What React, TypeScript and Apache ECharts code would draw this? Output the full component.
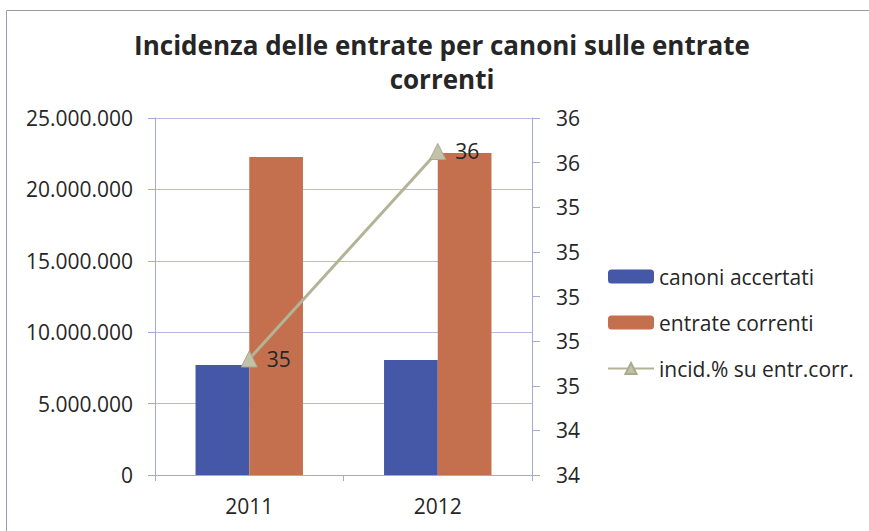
import React, { useEffect, useRef } from "react";
import * as echarts from "echarts";

const categories = ["2011", "2012"];
const canoniAccertati = [7700000, 8050000];
const entrateCorrenti = [22270000, 22550000];
const incidenza = [34.72, 35.65];
const leftTicks = { min: 0, max: 25000000, interval: 5000000 };
const rightTicks = { min: 34.2, max: 35.8, interval: 0.2 };
const titleText = "Incidenza delle entrate per canoni sulle entrate\ncorrenti";
const seriesNames = ["canoni accertati", "entrate correnti", "incid.% su entr.corr."];

const FONT = "'Open Sans', 'Noto Sans', sans-serif";
const TXT = "#262626";
const AXIS = "#a3a8d6";
const GRID = "#b6bade";

export default function App() {
  const ref = useRef<HTMLDivElement>(null);
  useEffect(() => {
    document.body.style.margin = "0";
    const chart = echarts.init(ref.current!, null, { renderer: "svg" });
    const fmtThousands = (v: number) =>
      String(Math.round(v)).replace(/\B(?=(\d{3})+(?!\d))/g, ".");
    chart.setOption({
      animation: false,
      backgroundColor: "#ffffff",
      textStyle: { fontFamily: FONT },
      title: {
        text: titleText,
        left: 442,
        top: 28,
        padding: 0,
        textAlign: "center",
        textStyle: {
          fontFamily: FONT,
          fontSize: 26,
          lineHeight: 34,
          fontWeight: "bold",
          color: TXT,
        },
      },
      graphic: [
        {
          type: "rect",
          shape: { x: 6.5, y: 10.5, width: 900, height: 600 },
          style: { fill: "none", stroke: "#9a9aa8", lineWidth: 1 },
          silent: true,
        },
      ],
      legend: {
        orient: "vertical",
        left: 602,
        top: 261,
        itemWidth: 46,
        itemHeight: 14,
        itemGap: 25,
        data: seriesNames,
        textStyle: { fontFamily: FONT, fontSize: 21, color: TXT },
      },
      grid: { left: 155, right: 337, top: 118, bottom: 56, containLabel: false },
      xAxis: {
        type: "category",
        data: categories,
        axisLine: { lineStyle: { color: AXIS, width: 1 } },
        axisTick: { show: true, length: 6, lineStyle: { color: AXIS } },
        axisLabel: { fontFamily: FONT, fontSize: 21, color: TXT, margin: 20 },
      },
      yAxis: [
        {
          type: "value",
          min: leftTicks.min,
          max: leftTicks.max,
          interval: leftTicks.interval,
          axisLine: { show: true, lineStyle: { color: AXIS } },
          axisTick: { show: true, length: 7, lineStyle: { color: AXIS } },
          splitLine: { show: true, lineStyle: { color: GRID, width: 1 } },
          axisLabel: {
            fontFamily: FONT,
            fontSize: 21,
            color: TXT,
            margin: 22,
            formatter: fmtThousands,
          },
        },
        {
          type: "value",
          position: "right",
          min: rightTicks.min,
          max: rightTicks.max,
          interval: rightTicks.interval,
          axisLine: { show: true, lineStyle: { color: AXIS } },
          axisTick: { show: true, length: 8, lineStyle: { color: AXIS } },
          splitLine: { show: false },
          axisLabel: {
            fontFamily: FONT,
            fontSize: 21,
            color: TXT,
            margin: 24,
            formatter: (v: number) => String(Math.round(v)),
          },
        },
      ],
      series: [
        {
          name: seriesNames[0],
          type: "bar",
          data: canoniAccertati,
          itemStyle: { color: "#4558a8" },
          barGap: "0%",
          barCategoryGap: "43%",
        },
        {
          name: seriesNames[1],
          type: "bar",
          data: entrateCorrenti,
          itemStyle: { color: "#c4704f" },
          barGap: "0%",
          barCategoryGap: "43%",
        },
        {
          name: seriesNames[2],
          type: "line",
          yAxisIndex: 1,
          data: incidenza,
          symbol: "triangle",
          symbolSize: 16,
          lineStyle: { color: "#b3b497", width: 3 },
          itemStyle: { color: "#c2c2aa", borderColor: "#a9aa8c", borderWidth: 1 },
          label: {
            show: true,
            position: "right",
            distance: 9,
            fontFamily: FONT,
            fontSize: 21,
            color: TXT,
            formatter: (p: any) => String(Math.round(p.value)),
          },
          z: 5,
        },
      ],
    });
    return () => chart.dispose();
  }, []);
  return (
    <div
      ref={ref}
      style={{ position: "fixed", left: 0, top: 0, width: 869, height: 531 }}
    />
  );
}
